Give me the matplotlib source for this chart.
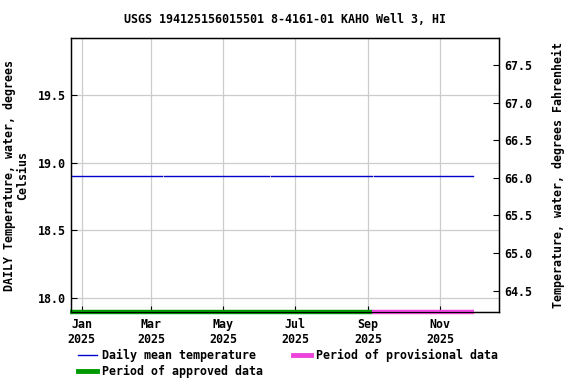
import matplotlib
matplotlib.use("Agg")
import matplotlib.pyplot as plt
import datetime as dt
from matplotlib.lines import Line2D

# Data: daily mean temperature segments (constant value between gaps)
seg_starts = ["2024-12-23", "2025-03-12", "2025-06-11", "2025-09-06"]
seg_ends = ["2025-03-10", "2025-06-09", "2025-09-04", "2025-11-29"]
seg_values = [18.9, 18.9, 18.9, 18.9]

approved_period = ["2024-12-22", "2025-09-04"]
provisional_period = ["2025-09-04", "2025-11-30"]

tick_dates = ["2025-01-01", "2025-03-01", "2025-05-01", "2025-07-01", "2025-09-01", "2025-11-01"]
tick_labels = ["Jan\n2025", "Mar\n2025", "May\n2025", "Jul\n2025", "Sep\n2025", "Nov\n2025"]
yticks_c = [18.0, 18.5, 19.0, 19.5]
yticks_f = [64.5, 65.0, 65.5, 66.0, 66.5, 67.0, 67.5]

def d(s):
    return dt.datetime.strptime(s, "%Y-%m-%d")

font = {"family": "DejaVu Sans Mono", "weight": "bold", "size": 8.4}

fig = plt.figure(figsize=(5.76, 3.84), dpi=100)
ax = fig.add_axes([0.1233, 0.1875, 0.743, 0.7135])

ymin, ymax = 17.897, 19.921
ax.set_ylim(ymin, ymax)
ax.set_xlim(d("2024-12-23"), d("2025-12-21"))

for s, e, v in zip(seg_starts, seg_ends, seg_values):
    ax.plot([d(s), d(e)], [v, v], color="#0000cc", lw=1.0, zorder=3)

ax.plot([d(approved_period[0]), d(approved_period[1])], [ymin, ymin], color="#009900",
        lw=3.2, solid_capstyle="butt", clip_on=False, zorder=4)
ax.plot([d(provisional_period[0]), d(provisional_period[1])], [ymin, ymin], color="#ee44dd",
        lw=3.2, solid_capstyle="butt", clip_on=False, zorder=4)

ax.set_xticks([d(t) for t in tick_dates])
ax.set_xticklabels(tick_labels, **font)
ax.set_yticks(yticks_c)
ax.set_yticklabels([f"{v:.1f}" for v in yticks_c], **font)
ax.grid(True, color="#cccccc", lw=0.9)
ax.tick_params(axis="both", direction="in", length=4, width=0.8, color="black", pad=4)
for sp in ax.spines.values():
    sp.set_linewidth(1.0)

ax.set_ylabel("DAILY Temperature, water, degrees\nCelsius", linespacing=1.0, **font)
ax.yaxis.set_label_coords(-0.098, 0.5)
ax.set_title("USGS 194125156015501 8-4161-01 KAHO Well 3, HI", pad=10.5, **font)

ax2 = ax.twinx()
ax2.set_ylim(ymin * 9 / 5 + 32, ymax * 9 / 5 + 32)
ax2.set_yticks(yticks_f)
ax2.set_yticklabels([f"{v:.1f}" for v in yticks_f], **font)
ax2.tick_params(axis="y", direction="in", length=4, width=0.8, pad=4)
ax2.set_ylabel("Temperature, water, degrees Fahrenheit", **font)
ax2.yaxis.set_label_coords(1.123, 0.5)

handles = [
    Line2D([], [], color="#0000cc", lw=1.0),
    Line2D([], [], color="#009900", lw=3.5),
    Line2D([], [], color="#ee44dd", lw=3.5),
]
labels = ["Daily mean temperature", "Period of approved data", "Period of provisional data"]
fig.legend(handles, labels,
           ncol=2, loc="lower left", bbox_to_anchor=(0.118, -0.012), frameon=False,
           prop={"family": "DejaVu Sans Mono", "weight": "bold", "size": 8.4},
           handlelength=1.55, handletextpad=0.45, columnspacing=2.57, labelspacing=0.25)

fig.savefig("out.png", dpi=100)
